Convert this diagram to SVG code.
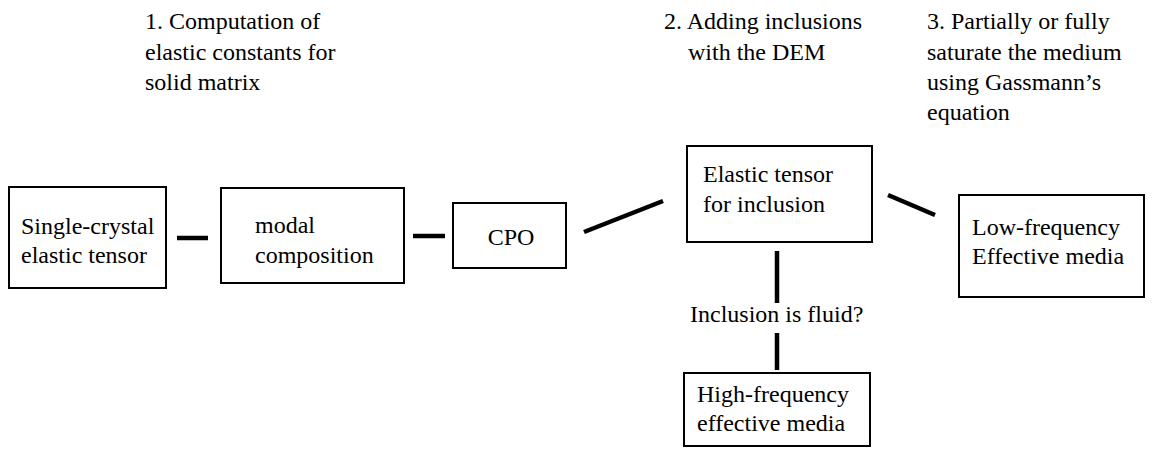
<svg xmlns="http://www.w3.org/2000/svg" width="1169" height="449" viewBox="0 0 1169 449" font-family="'Liberation Serif', 'DejaVu Serif', 'Times New Roman', Times, serif" font-size="24">
<style>
text{font-family:'Liberation Serif','DejaVu Serif','Times New Roman',Times,serif;font-size:24px;fill:#000}
.box{fill:#fff;stroke:#000;stroke-width:2}
.con{stroke:#000;stroke-width:4.5;fill:none}
</style>
<rect width="1169" height="449" fill="#fff"/>
<g id="headings">
<text x="145" y="29">1. Computation of</text>
<text x="145" y="60">elastic constants for</text>
<text x="145" y="90">solid matrix</text>
<text x="664" y="29">2. Adding inclusions</text>
<text x="688" y="60">with the DEM</text>
<text x="927" y="29">3. Partially or fully</text>
<text x="927" y="60">saturate the medium</text>
<text x="927" y="90">using Gassmann’s</text>
<text x="927" y="120">equation</text>
</g>
<g id="connectors">
<line class="con" x1="177" y1="238" x2="208" y2="238"/>
<line class="con" x1="413" y1="236" x2="445" y2="236"/>
<line class="con" x1="584" y1="232" x2="663" y2="201"/>
<line class="con" x1="888" y1="195" x2="935" y2="215"/>
<line class="con" x1="777" y1="251" x2="777" y2="303"/>
<line class="con" x1="777" y1="333" x2="777" y2="370"/>
<text x="690" y="322">Inclusion is fluid?</text>
</g>
<g id="single-crystal">
<rect class="box" x="9" y="187" width="157" height="101"/>
<text x="21" y="234">Single-crystal</text>
<text x="21" y="263">elastic tensor</text>
</g>
<g id="modal">
<rect class="box" x="221" y="188" width="183" height="95"/>
<text x="255" y="233">modal</text>
<text x="255" y="263">composition</text>
</g>
<g id="cpo">
<rect class="box" x="453" y="203" width="113" height="65"/>
<text x="511" y="245" text-anchor="middle">CPO</text>
</g>
<g id="elastic-inclusion">
<rect class="box" x="687" y="146" width="185" height="96"/>
<text x="703" y="182">Elastic tensor</text>
<text x="703" y="212">for inclusion</text>
</g>
<g id="low-frequency">
<rect class="box" x="959" y="195" width="185" height="102"/>
<text x="972" y="235">Low-frequency</text>
<text x="972" y="264">Effective media</text>
</g>
<g id="high-frequency">
<rect class="box" x="684" y="373" width="186" height="73"/>
<text x="697" y="402">High-frequency</text>
<text x="697" y="431">effective media</text>
</g>
</svg>
